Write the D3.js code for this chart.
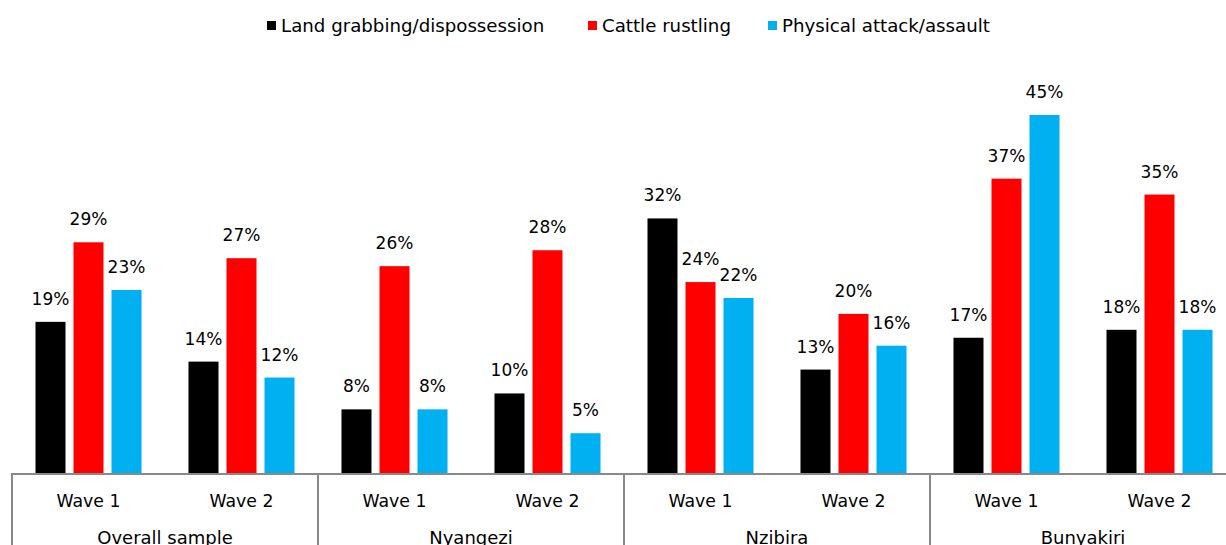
<!DOCTYPE html>
<html><head><meta charset="utf-8">
<script src="https://cdn.jsdelivr.net/npm/d3@7"></script>
<style>
html,body{margin:0;padding:0;background:#fff;}
svg{display:block;font-family:"DejaVu Sans",sans-serif;}
</style></head>
<body><svg id="c" width="1226" height="545"></svg>
<script>
const groups = ["Overall sample","Nyangezi","Nzibira","Bunyakiri"];
const waves = ["Wave 1","Wave 2"];
const seriesNames = ["Land grabbing/dispossession","Cattle rustling","Physical attack/assault"];
const colors = ["#000000","#FF0000","#00B0F0"];
// values per group, wave order: W1, W2
const landGrabbing = [19,14, 8,10, 32,13, 17,18];
const cattleRustling = [29,27, 26,28, 24,20, 37,35];
const physicalAttack = [23,12, 8,5, 22,16, 45,18];
const seriesValues = [landGrabbing, cattleRustling, physicalAttack];

const svg = d3.select("#c");
const fs = 17.3;
const baseY = 473;
const cats = [];
groups.forEach(g => waves.forEach(w => cats.push(g + "|" + w)));

const x = d3.scaleBand().domain(cats).range([12, 1236]).padding(0);
const xs = d3.scaleBand().domain(d3.range(3)).range([0, x.bandwidth()])
  .paddingInner(8/38).paddingOuter(0.618);
const y = d3.scaleLinear().domain([0, 45]).range([baseY, 115]);

// bars
seriesValues.forEach((vals, si) => {
  const g = svg.append("g");
  g.selectAll("rect").data(vals).join("rect")
    .attr("x", (d,i) => x(cats[i]) + xs(si))
    .attr("width", xs.bandwidth())
    .attr("y", d => y(d))
    .attr("height", d => baseY - y(d))
    .attr("fill", colors[si]);
  g.selectAll("text").data(vals).join("text")
    .attr("x", (d,i) => x(cats[i]) + xs(si) + xs.bandwidth()/2)
    .attr("y", d => y(d) - 17)
    .attr("text-anchor","middle")
    .attr("font-size", 17)
    .attr("fill","#000")
    .text(d => d + "%");
});

// axis
const axisColor = "#898989";
svg.append("line").attr("x1", 12).attr("x2", 1226).attr("y1", baseY+1).attr("y2", baseY+1)
  .attr("stroke", axisColor).attr("stroke-width", 2);
const gx = d3.scaleBand().domain(groups).range([12, 1236]);
svg.selectAll(".sep").data(groups).join("line")
  .attr("x1", d => gx(d)).attr("x2", d => gx(d))
  .attr("y1", baseY).attr("y2", 545)
  .attr("stroke", axisColor).attr("stroke-width", 2);
svg.selectAll(".wl").data(cats).join("text")
  .attr("x", d => x(d) + x.bandwidth()/2)
  .attr("y", 507)
  .attr("text-anchor","middle").attr("font-size", fs).attr("fill","#000")
  .text(d => d.split("|")[1]);
svg.selectAll(".gl").data(groups).join("text")
  .attr("x", d => gx(d) + gx.bandwidth()/2)
  .attr("y", 544)
  .attr("text-anchor","middle").attr("font-size", 18).attr("fill","#000")
  .text(d => d);

// legend
const legX = [267, 588, 768];
seriesNames.forEach((n, i) => {
  svg.append("rect").attr("x", legX[i]).attr("y", 21).attr("width", 9).attr("height", 9).attr("fill", colors[i]);
  svg.append("text").attr("x", legX[i] + 14).attr("y", 32).attr("font-size", 18.2).attr("fill","#000").text(n);
});
</script></body></html>
